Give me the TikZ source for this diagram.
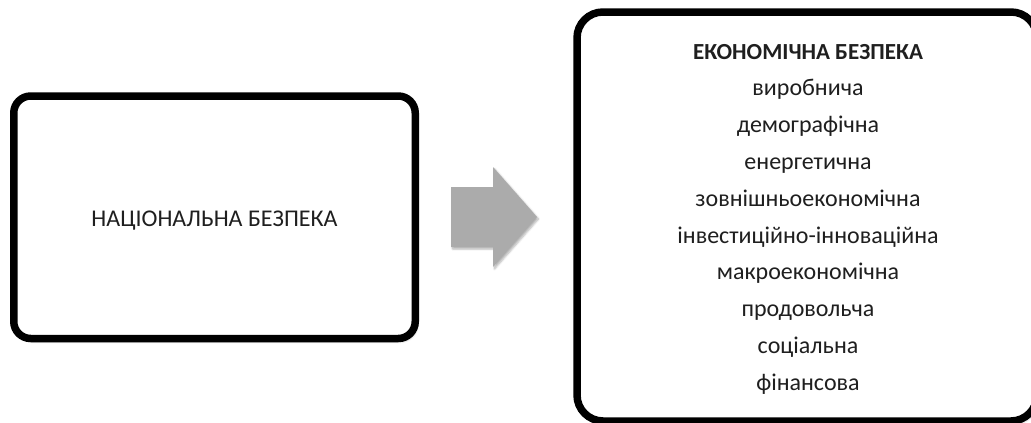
\documentclass[tikz,border=0pt]{standalone}
\usepackage{fontspec}
\setmainfont{Carlito}
\usetikzlibrary{shadows,shadows.blur}
\begin{document}
\begin{tikzpicture}[x=1pt,y=-1pt,
  mainbox/.style={draw=black, line width=7.5pt, fill=white, rounded corners=17pt,
    blur shadow={shadow xshift=2pt, shadow yshift=-3pt, shadow blur steps=6, shadow opacity=35}},
  txt/.style={text=black!88, font=\fontsize{24}{28}\selectfont, inner sep=0pt, anchor=base},
  bigarrow/.style={fill=black!33, draw=none,
    blur shadow={shadow xshift=1.5pt, shadow yshift=-2pt, shadow blur steps=5, shadow opacity=30}}]
\clip (0,0) rectangle (1031,423);
\useasboundingbox (0,0) rectangle (1031,423);
% left box
\path[mainbox] (13.75,96) rectangle (415.25,338.5);
\node[txt] (nat) at (214.5,226) {НАЦІОНАЛЬНА БЕЗПЕКА};
% right box
\path[mainbox, rounded corners=26pt] (577,12) rectangle (1037,421);
\node[txt, font=\fontsize{23}{28}\selectfont\bfseries] (eco) at (808,59) {ЕКОНОМІЧНА БЕЗПЕКА};
\foreach \t [count=\i] in {виробнича, демографічна, енергетична, зовнішньоекономічна,
  інвестиційно-інноваційна, макроекономічна, продовольча, соціальна, фінансова}
  \node[txt] (l\i) at (808,{59+36.8*\i}) {\t};
% arrow
\path[bigarrow] (451,187) -- (493,187) -- (493,167) -- (537,217) -- (493,267) -- (493,247) -- (451,247) -- cycle;
\end{tikzpicture}
\end{document}
